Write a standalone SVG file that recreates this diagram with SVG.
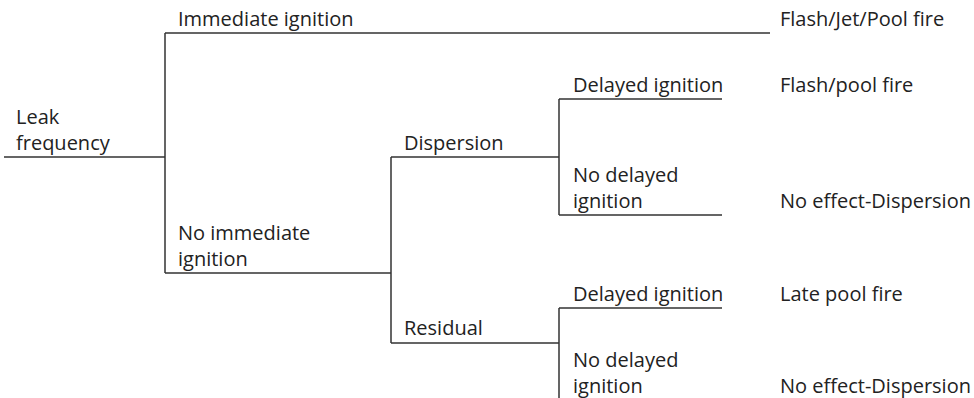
<svg xmlns="http://www.w3.org/2000/svg" width="974" height="398" viewBox="0 0 974 398">
  <style>
    text { font-family: "Open Sans", "Noto Sans", "Liberation Sans", sans-serif; font-size: 20px; fill: #222; }
    .ln { stroke: #333; stroke-width: 1.5; fill: none; }
  </style>
  <rect width="974" height="398" fill="#fff"/>
  <g id="connectors">
    <path class="ln" d="M4 157 H165 M165 33 V273 M165 33 H770 M165 273 H391"/>
    <path class="ln" d="M391 157 V343 M391 157 H559 M391 343 H559"/>
    <path class="ln" d="M559 99 V215 M559 99 H722 M559 215 H722"/>
    <path class="ln" d="M559 308 V398 M559 308 H722"/>
  </g>
  <g id="leak"><text x="16" y="124">Leak</text><text x="16" y="150">frequency</text></g>
  <g id="immediate"><text x="178" y="26">Immediate ignition</text></g>
  <g id="outcome-immediate"><text x="780" y="26">Flash/Jet/Pool fire</text></g>
  <g id="no-immediate"><text x="178" y="240">No immediate</text><text x="178" y="266">ignition</text></g>
  <g id="dispersion"><text x="404" y="150">Dispersion</text></g>
  <g id="residual"><text x="404" y="335">Residual</text></g>
  <g id="disp-delayed"><text x="573" y="92">Delayed ignition</text></g>
  <g id="outcome-disp-delayed"><text x="780" y="92">Flash/pool fire</text></g>
  <g id="disp-no-delayed"><text x="573" y="182">No delayed</text><text x="573" y="208">ignition</text></g>
  <g id="outcome-disp-none"><text x="780" y="208">No effect-Dispersion</text></g>
  <g id="res-delayed"><text x="573" y="301">Delayed ignition</text></g>
  <g id="outcome-res-delayed"><text x="780" y="301">Late pool fire</text></g>
  <g id="res-no-delayed"><text x="573" y="367">No delayed</text><text x="573" y="393">ignition</text></g>
  <g id="outcome-res-none"><text x="780" y="393">No effect-Dispersion</text></g>
</svg>
